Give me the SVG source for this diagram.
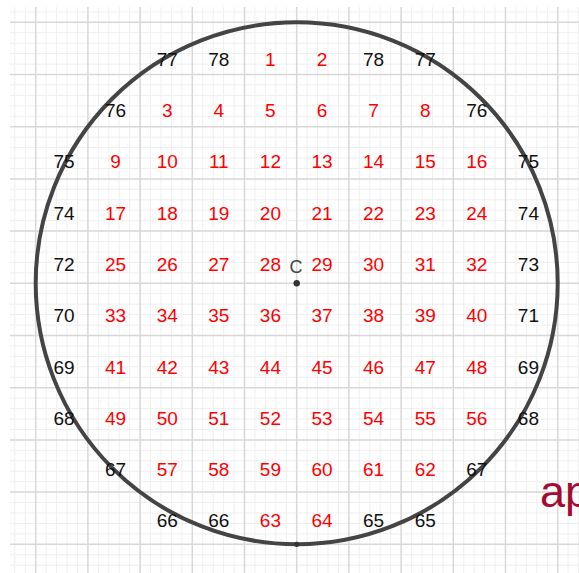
<svg xmlns="http://www.w3.org/2000/svg" width="579" height="573" viewBox="0 0 579 573">
<style>
.minor{stroke:#efefef;stroke-width:1;fill:none}
.major{stroke:#d8d8d8;stroke-width:1.5;fill:none}
text{font-family:"Liberation Sans",Arial,sans-serif;font-size:19px;text-anchor:middle}
.r{fill:#ff0000}
.k{fill:#111111}
</style>
<rect width="579" height="573" fill="#ffffff"/>
<g id="grid">
<path class="minor" d="M14.8 7V573M25.3 7V573M46.1 7V573M56.6 7V573M67 7V573M77.5 7V573M98.3 7V573M108.8 7V573M119.2 7V573M129.7 7V573M150.5 7V573M161 7V573M171.4 7V573M181.9 7V573M202.7 7V573M213.2 7V573M223.6 7V573M234.1 7V573M254.9 7V573M265.4 7V573M275.8 7V573M286.3 7V573M307.1 7V573M317.6 7V573M328 7V573M338.5 7V573M359.3 7V573M369.8 7V573M380.2 7V573M390.7 7V573M411.5 7V573M422 7V573M432.4 7V573M442.9 7V573M463.7 7V573M474.2 7V573M484.6 7V573M495.1 7V573M515.9 7V573M526.4 7V573M536.8 7V573M547.3 7V573M568.1 7V573M578.6 7V573
M10 11.9H579M10 32.7H579M10 43.2H579M10 53.6H579M10 64.1H579M10 84.9H579M10 95.4H579M10 105.8H579M10 116.3H579M10 137.1H579M10 147.6H579M10 158H579M10 168.5H579M10 189.3H579M10 199.8H579M10 210.2H579M10 220.7H579M10 241.5H579M10 252H579M10 262.4H579M10 272.9H579M10 293.7H579M10 304.2H579M10 314.6H579M10 325.1H579M10 345.9H579M10 356.4H579M10 366.8H579M10 377.3H579M10 398.1H579M10 408.6H579M10 419H579M10 429.5H579M10 450.3H579M10 460.8H579M10 471.2H579M10 481.7H579M10 502.5H579M10 513H579M10 523.4H579M10 533.9H579M10 554.7H579M10 565.2H579"/>
<path class="major" d="M35.7 7V573M87.9 7V573M140.1 7V573M192.3 7V573M244.5 7V573M296.7 7V573M348.9 7V573M401.1 7V573M453.3 7V573M505.5 7V573M557.7 7V573
M10 22.3H579M10 74.5H579M10 126.7H579M10 178.9H579M10 231.1H579M10 283.3H579M10 335.5H579M10 387.7H579M10 439.9H579M10 492.1H579M10 544.3H579"/>
</g>
<g id="circle">
<circle cx="296.7" cy="283.3" r="261" fill="none" stroke="#444444" stroke-width="4"/>
</g>
<g id="point-C">
<circle cx="296.7" cy="283.3" r="3.2" fill="#333333"/>
<text x="296" y="272.7" fill="#444444" style="font-size:18px">C</text>
</g>
<g id="point-bottom">
<circle cx="296.7" cy="544.3" r="2.6" fill="#333333"/>
</g>
<g id="row1">
<text class="k" x="167.2" y="65.7">77</text>
<text class="k" x="218.8" y="65.7">78</text>
<text class="r" x="270.4" y="65.7">1</text>
<text class="r" x="322" y="65.7">2</text>
<text class="k" x="373.6" y="65.7">78</text>
<text class="k" x="425.2" y="65.7">77</text>
</g>
<g id="row2">
<text class="k" x="115.6" y="117">76</text>
<text class="r" x="167.2" y="117">3</text>
<text class="r" x="218.8" y="117">4</text>
<text class="r" x="270.4" y="117">5</text>
<text class="r" x="322" y="117">6</text>
<text class="r" x="373.6" y="117">7</text>
<text class="r" x="425.2" y="117">8</text>
<text class="k" x="476.8" y="117">76</text>
</g>
<g id="row3">
<text class="k" x="64" y="168.3">75</text>
<text class="r" x="115.6" y="168.3">9</text>
<text class="r" x="167.2" y="168.3">10</text>
<text class="r" x="218.8" y="168.3">11</text>
<text class="r" x="270.4" y="168.3">12</text>
<text class="r" x="322" y="168.3">13</text>
<text class="r" x="373.6" y="168.3">14</text>
<text class="r" x="425.2" y="168.3">15</text>
<text class="r" x="476.8" y="168.3">16</text>
<text class="k" x="528.4" y="168.3">75</text>
</g>
<g id="row4">
<text class="k" x="64" y="219.6">74</text>
<text class="r" x="115.6" y="219.6">17</text>
<text class="r" x="167.2" y="219.6">18</text>
<text class="r" x="218.8" y="219.6">19</text>
<text class="r" x="270.4" y="219.6">20</text>
<text class="r" x="322" y="219.6">21</text>
<text class="r" x="373.6" y="219.6">22</text>
<text class="r" x="425.2" y="219.6">23</text>
<text class="r" x="476.8" y="219.6">24</text>
<text class="k" x="528.4" y="219.6">74</text>
</g>
<g id="row5">
<text class="k" x="64" y="270.9">72</text>
<text class="r" x="115.6" y="270.9">25</text>
<text class="r" x="167.2" y="270.9">26</text>
<text class="r" x="218.8" y="270.9">27</text>
<text class="r" x="270.4" y="270.9">28</text>
<text class="r" x="322" y="270.9">29</text>
<text class="r" x="373.6" y="270.9">30</text>
<text class="r" x="425.2" y="270.9">31</text>
<text class="r" x="476.8" y="270.9">32</text>
<text class="k" x="528.4" y="270.9">73</text>
</g>
<g id="row6">
<text class="k" x="64" y="322.2">70</text>
<text class="r" x="115.6" y="322.2">33</text>
<text class="r" x="167.2" y="322.2">34</text>
<text class="r" x="218.8" y="322.2">35</text>
<text class="r" x="270.4" y="322.2">36</text>
<text class="r" x="322" y="322.2">37</text>
<text class="r" x="373.6" y="322.2">38</text>
<text class="r" x="425.2" y="322.2">39</text>
<text class="r" x="476.8" y="322.2">40</text>
<text class="k" x="528.4" y="322.2">71</text>
</g>
<g id="row7">
<text class="k" x="64" y="373.5">69</text>
<text class="r" x="115.6" y="373.5">41</text>
<text class="r" x="167.2" y="373.5">42</text>
<text class="r" x="218.8" y="373.5">43</text>
<text class="r" x="270.4" y="373.5">44</text>
<text class="r" x="322" y="373.5">45</text>
<text class="r" x="373.6" y="373.5">46</text>
<text class="r" x="425.2" y="373.5">47</text>
<text class="r" x="476.8" y="373.5">48</text>
<text class="k" x="528.4" y="373.5">69</text>
</g>
<g id="row8">
<text class="k" x="64" y="424.8">68</text>
<text class="r" x="115.6" y="424.8">49</text>
<text class="r" x="167.2" y="424.8">50</text>
<text class="r" x="218.8" y="424.8">51</text>
<text class="r" x="270.4" y="424.8">52</text>
<text class="r" x="322" y="424.8">53</text>
<text class="r" x="373.6" y="424.8">54</text>
<text class="r" x="425.2" y="424.8">55</text>
<text class="r" x="476.8" y="424.8">56</text>
<text class="k" x="528.4" y="424.8">68</text>
</g>
<g id="row9">
<text class="k" x="115.6" y="476.1">67</text>
<text class="r" x="167.2" y="476.1">57</text>
<text class="r" x="218.8" y="476.1">58</text>
<text class="r" x="270.4" y="476.1">59</text>
<text class="r" x="322" y="476.1">60</text>
<text class="r" x="373.6" y="476.1">61</text>
<text class="r" x="425.2" y="476.1">62</text>
<text class="k" x="476.8" y="476.1">67</text>
</g>
<g id="row10">
<text class="k" x="167.2" y="527.4">66</text>
<text class="k" x="218.8" y="527.4">66</text>
<text class="r" x="270.4" y="527.4">63</text>
<text class="r" x="322" y="527.4">64</text>
<text class="k" x="373.6" y="527.4">65</text>
<text class="k" x="425.2" y="527.4">65</text>
</g>
<g id="label-ap">
<text x="540" y="506.7" style="font-size:45px;text-anchor:start;fill:#a50a32">ap</text>
</g>
</svg>
